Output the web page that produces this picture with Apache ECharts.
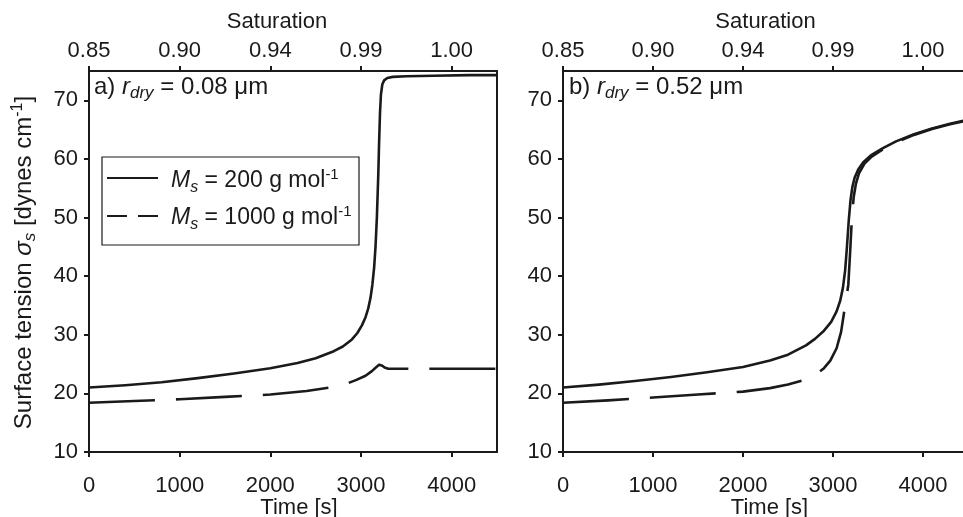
<!DOCTYPE html>
<html>
<head>
<meta charset="utf-8">
<script src="https://cdn.jsdelivr.net/npm/echarts@6/dist/echarts.min.js"></script>
<style>html,body{margin:0;padding:0;background:#fff;}#c{width:963px;height:517px;}</style>
</head>
<body>
<div id="c"></div>
<script>
// ---- data ----
var satLabels = ['0.85', '0.90', '0.94', '0.99', '1.00'];
var timeTicks = [0, 1000, 2000, 3000, 4000];
var legendNames = ['200', '1000'];

var tA200 = [0, 400, 800, 1200, 1600, 2000, 2300, 2500, 2700, 2800, 2900, 2960, 3010, 3050, 3080, 3105, 3125, 3145, 3160, 3175, 3190, 3200, 3210, 3220, 3235, 3255, 3290, 3350, 3500, 3800, 4200, 4500];
var yA200 = [21.0, 21.4, 21.9, 22.6, 23.4, 24.3, 25.2, 26.0, 27.2, 28.0, 29.2, 30.3, 31.6, 33.0, 34.5, 36.3, 38.5, 41.5, 45.0, 50.0, 57.0, 63.0, 68.0, 71.0, 72.7, 73.4, 73.8, 74.0, 74.1, 74.2, 74.3, 74.3];

var tA1000 = [0, 500, 1000, 1500, 2000, 2400, 2700, 2850, 2950, 3050, 3120, 3170, 3200, 3215, 3235, 3260, 3300, 4500];
var yA1000 = [18.4, 18.7, 19.0, 19.4, 19.8, 20.4, 21.1, 21.7, 22.3, 23.0, 23.8, 24.5, 24.9, 25.1, 24.7, 24.4, 24.2, 24.2];

var tB200 = [0, 400, 800, 1200, 1600, 2000, 2300, 2500, 2700, 2800, 2900, 2980, 3040, 3080, 3110, 3135, 3155, 3175, 3195, 3215, 3240, 3280, 3340, 3420, 3550, 3700, 3900, 4100, 4300, 4500];
var yB200 = [21.0, 21.5, 22.1, 22.8, 23.6, 24.5, 25.6, 26.6, 28.2, 29.3, 30.7, 32.2, 34.0, 35.8, 38.0, 41.0, 45.0, 49.5, 53.0, 55.2, 56.8, 58.2, 59.5, 60.6, 61.8, 63.0, 64.2, 65.2, 66.0, 66.7];

var tB1000 = [0, 500, 1000, 1500, 2000, 2300, 2500, 2700, 2800, 2900, 2970, 3040, 3090, 3133, 3170, 3190, 3210, 3230, 3255, 3290, 3350, 3430, 3560, 3710, 3900, 4100, 4300, 4500];
var yB1000 = [18.4, 18.8, 19.3, 19.8, 20.3, 20.9, 21.5, 22.4, 23.1, 24.3, 25.6, 27.7, 30.5, 34.8, 38.5, 44.0, 50.0, 53.5, 55.8, 57.6, 59.2, 60.4, 61.7, 62.9, 64.1, 65.1, 65.9, 66.6];

function zip(t, y) { return t.map(function (v, i) { return [v, y[i]]; }); }

var FONT = '"Liberation Sans", Arial, Helvetica, sans-serif';
var INK = '#1a1a1a';
var FS = 22;   // tick labels, axis titles
var FL = 24;   // panel labels, y title
var FG = 23;   // legend
function makeRich(base) {
  return {
    i: { fontSize: base, fontStyle: 'italic', color: INK, fontFamily: FONT },
    sub: { fontSize: Math.round(base * 0.71), fontStyle: 'italic', color: INK, fontFamily: FONT, padding: [13, 0, 0, 0] },
    sup: { fontSize: Math.round(base * 0.67), color: INK, fontFamily: FONT, padding: [0, 0, 13, 0] }
  };
}
var rich = makeRich(FL);
var richG = makeRich(FG);

function pad(shift) { return shift > 0 ? [0, 0, 0, shift * 2] : [0, -shift * 2, 0, 0]; }
function bottomAxis(gi, shift) {
  return {
    type: 'value', gridIndex: gi, position: 'bottom', min: 0, max: 4500, interval: 1000,
    name: 'Time [s]', nameLocation: 'middle', nameGap: 45, nameMoveOverlap: false,
    nameTextStyle: { fontSize: FS, color: INK, fontFamily: FONT, padding: pad(shift) },
    axisLine: { show: true, onZero: false, lineStyle: { color: INK, width: 2 } },
    axisTick: { show: true, inside: false, length: 5, lineStyle: { color: INK, width: 2 } },
    axisLabel: { fontSize: FS, color: INK, fontFamily: FONT, margin: 23, showMaxLabel: false,
      formatter: function (v) { return String(v); } },
    splitLine: { show: false }
  };
}
function topAxis(gi, shift) {
  return {
    type: 'value', gridIndex: gi, position: 'top', min: 0, max: 4500, interval: 1000,
    name: 'Saturation', nameLocation: 'middle', nameGap: 38, nameMoveOverlap: false,
    nameTextStyle: { fontSize: FS, color: INK, fontFamily: FONT, padding: pad(shift) },
    axisLine: { show: true, onZero: false, lineStyle: { color: INK, width: 2 } },
    axisTick: { show: true, inside: false, length: 5, lineStyle: { color: INK, width: 2 } },
    axisLabel: {
      fontSize: FS, color: INK, fontFamily: FONT, margin: 9, showMaxLabel: false,
      formatter: function (v) { var k = timeTicks.indexOf(v); return k >= 0 ? satLabels[k] : ''; }
    },
    splitLine: { show: false }
  };
}
function leftAxis(gi, withName) {
  var a = {
    type: 'value', gridIndex: gi, position: 'left', min: 10, max: 75, interval: 10,
    axisLine: { show: true, onZero: false, lineStyle: { color: INK, width: 2 } },
    axisTick: { show: true, inside: false, length: 5, lineStyle: { color: INK, width: 2 } },
    axisLabel: { fontSize: FS, color: INK, fontFamily: FONT, margin: 11, showMaxLabel: false },
    splitLine: { show: false }
  };
  if (withName) {
    a.name = 'Surface tension {i|σ}{sub|s} [dynes cm{sup|-1}]';
    a.nameLocation = 'middle';
    a.nameGap = 50;
    a.nameRotate = 90;
    a.nameMoveOverlap = false;
    a.nameTextStyle = { fontSize: FL, color: INK, fontFamily: FONT, rich: rich, padding: [0, 2, 0, 0] };
  }
  return a;
}
function rightAxis(gi) {
  return {
    type: 'value', gridIndex: gi, position: 'right', min: 10, max: 75,
    axisLine: { show: true, onZero: false, lineStyle: { color: INK, width: 2 } },
    axisTick: { show: false }, axisLabel: { show: false }, splitLine: { show: false }
  };
}
var DASH = [66, 21];
function ser(name, xi, yi, data, dashed) {
  return {
    type: 'line', name: name, xAxisIndex: xi, yAxisIndex: yi, data: data,
    symbol: 'none', smooth: false, z: dashed ? 2 : 3,
    lineStyle: { color: INK, width: 2.6, type: dashed ? DASH : 'solid', join: 'round', cap: 'butt' }
  };
}

function legendText(n) { return '{i|M}{sub|s} = ' + n + ' g mol{sup|-1}'; }

var chart = echarts.init(document.getElementById('c'), null, { renderer: 'canvas' });
chart.setOption({
  animation: false,
  backgroundColor: '#fff',
  textStyle: { fontFamily: FONT },
  grid: [
    { left: 89, top: 71, width: 408, height: 381, containLabel: false, outerBoundsMode: 'none' },
    { left: 563, top: 71, width: 405, height: 381, containLabel: false, outerBoundsMode: 'none' }
  ],
  title: [
    { text: 'a) {i|r}{sub|dry} = 0.08 μm', left: 94, top: 72, padding: 0,
      textStyle: { fontSize: FL, fontWeight: 'normal', color: INK, fontFamily: FONT, rich: rich } },
    { text: 'b) {i|r}{sub|dry} = 0.52 μm', left: 569, top: 72, padding: 0,
      textStyle: { fontSize: FL, fontWeight: 'normal', color: INK, fontFamily: FONT, rich: rich } }
  ],
  graphic: [
    { type: 'rect', shape: { x: 102, y: 157, width: 257, height: 88 }, z: 10,
      style: { fill: '#fff', stroke: INK, lineWidth: 1.2 } },
    { type: 'line', shape: { x1: 107, y1: 178, x2: 158, y2: 178 }, z: 11,
      style: { stroke: INK, lineWidth: 2 } },
    { type: 'line', shape: { x1: 107, y1: 216, x2: 158, y2: 216 }, z: 11,
      style: { stroke: INK, lineWidth: 2, lineDash: [20, 11] } },
    { type: 'text', left: 171, top: 167, z: 11,
      style: { text: legendText(legendNames[0]), fontSize: FG, fill: INK, fontFamily: FONT, rich: richG } },
    { type: 'text', left: 171, top: 204, z: 11,
      style: { text: legendText(legendNames[1]), fontSize: FG, fill: INK, fontFamily: FONT, rich: richG } }
  ],
  xAxis: [bottomAxis(0, 6), topAxis(0, -16), bottomAxis(1, 4), topAxis(1, 0)],
  yAxis: [leftAxis(0, true), rightAxis(0), leftAxis(1, false)],
  series: [
    ser('1000', 0, 0, zip(tA1000, yA1000), true),
    ser('200', 0, 0, zip(tA200, yA200), false),
    ser('1000', 2, 2, zip(tB1000, yB1000), true),
    ser('200', 2, 2, zip(tB200, yB200), false)
  ]
});
</script>
</body>
</html>
